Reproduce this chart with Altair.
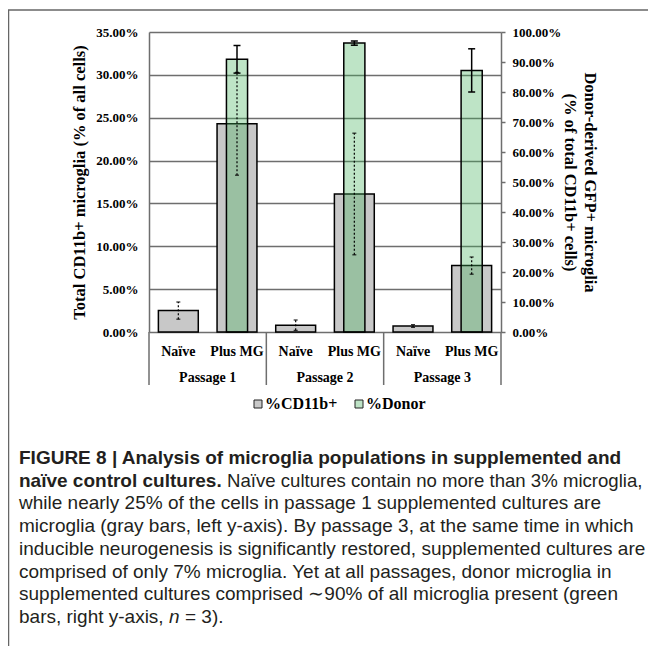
import altair as alt
import pandas as pd

# ---------------- data ----------------
passages = ["Passage 1", "Passage 2", "Passage 3"]
conditions = ["Naïve", "Plus MG"]
cd11b_pct = [2.5, 24.3, 0.8, 16.1, 0.7, 7.75]      # left axis, gray bars
cd11b_sem = [1.0, 6.0, 0.6, 7.1, 0.15, 1.0]
donor_pct = [90.9, 96.3, 87.2]                    # right axis, green bars (Plus MG only)
donor_sem = [4.6, 0.7, 7.2]
left_ticks = [0, 5, 10, 15, 20, 25, 30, 35]
right_ticks = [0, 10, 20, 30, 40, 50, 60, 70, 80, 90, 100]
series = ["%CD11b+", "%Donor"]
left_title = "Total CD11b+ microglia (% of all cells)"
right_title = ["Donor-derived GFP+ microglia", "(% of total CD11b+ cells)"]

caption_segments = [
    # (line, x offset, text, style, size)
    (0, 0, "FIGURE 8 | Analysis of microglia populations in supplemented and", "bold", 19),
    (1, 0, "naïve control cultures.", "bold", 19),
    (1, 208, "Naïve cultures contain no more than 3% microglia,", "normal", 18.6),
    (2, 0, "while nearly 25% of the cells in passage 1 supplemented cultures are", "normal", 19),
    (3, 0, "microglia (gray bars, left y-axis). By passage 3, at the same time in which", "normal", 19),
    (4, 0, "inducible neurogenesis is significantly restored, supplemented cultures are", "normal", 19),
    (5, 0, "comprised of only 7% microglia. Yet at all passages, donor microglia in", "normal", 19),
    (6, 0, "supplemented cultures comprised \u223c90% of all microglia present (green", "normal", 19),
    (7, 0, "bars, right y-axis,", "normal", 19),
    (7, 150, "n", "italic", 19),
    (7, 166, "= 3).", "normal", 19),
]

# ---------------- styling ----------------
W, H = 352, 300
GRAY = "#c8c8c8"
GREEN = "#45b15b"
GREEN_SWATCH = "#bee3c6"
AXIS_GRAY = "#6e6e6e"
SERIF = "Liberation Serif"
SANS = "Liberation Sans"
GRAY_HALF = 0.34
GREEN_HALF = 0.18

n_cond = len(conditions)
rows = []
for pi, p in enumerate(passages):
    for ci, c in enumerate(conditions):
        i = pi * n_cond + ci
        rows.append(dict(passage=p, condition=c, pos=i + 0.5,
                         value=cd11b_pct[i], err=cd11b_sem[i], series=series[0]))
gray = pd.DataFrame(rows)
gray["x1"] = gray["pos"] - GRAY_HALF
gray["x2"] = gray["pos"] + GRAY_HALF
gray["lo"] = gray["value"] - gray["err"]
gray["hi"] = gray["value"] + gray["err"]

green = pd.DataFrame(dict(
    passage=passages,
    pos=[pi * n_cond + conditions.index("Plus MG") + 0.5 for pi in range(len(passages))],
    value=donor_pct, err=donor_sem, series=series[1]))
green["x1"] = green["pos"] - GREEN_HALF
green["x2"] = green["pos"] + GREEN_HALF
green["lo"] = green["value"] - green["err"]
green["hi"] = green["value"] + green["err"]

groups = pd.DataFrame(dict(passage=passages,
                           center=[pi * n_cond + n_cond / 2 for pi in range(len(passages))]))
bounds = pd.DataFrame(dict(b=[pi * n_cond for pi in range(len(passages) + 1)]))

xs = alt.Scale(domain=[0, len(passages) * n_cond], nice=False, zero=False)
ys_left = alt.Scale(domain=[0, 35], nice=False)
ys_right = alt.Scale(domain=[0, 100], nice=False)

left_axis = alt.Axis(orient="left", values=left_ticks, labelExpr="format(datum.value, '.2f') + '%'",
                     title=left_title, grid=True, gridColor=AXIS_GRAY, gridWidth=1.5,
                     ticks=False, tickSize=0, domainColor=AXIS_GRAY, domainWidth=1.5,
                     labelFont=SERIF, labelFontSize=13, labelFontWeight="bold", labelColor="black",
                     labelPadding=11, titleFont=SERIF, titleFontSize=16.5, titleFontWeight="bold",
                     titleColor="black", titlePadding=8)
right_axis = alt.Axis(orient="right", values=right_ticks, labelExpr="format(datum.value, '.2f') + '%'",
                      title=right_title, grid=False, ticks=True, tickSize=4, tickColor=AXIS_GRAY,
                      tickWidth=1.5, domainColor=AXIS_GRAY, domainWidth=1.5,
                      labelFont=SERIF, labelFontSize=13, labelFontWeight="bold", labelColor="black",
                      labelPadding=7, titleFont=SERIF, titleFontSize=16.5, titleFontWeight="bold",
                      titleColor="black", titlePadding=1, titleLineHeight=20)

one = pd.DataFrame({"a": [0]})

frame_left = alt.Chart(one).mark_rule(color="#666", strokeWidth=1.5).encode(
    x=alt.value(-140.5), y=alt.value(-22), y2=alt.value(614))
frame_top = alt.Chart(one).mark_rule(color="#666", strokeWidth=1.5).encode(
    x=alt.value(-141), x2=alt.value(499), y=alt.value(-22))

gray_bars = alt.Chart(gray).mark_bar(stroke="black", strokeWidth=1.5, fill=GRAY).encode(
    x=alt.X("x1:Q", scale=xs, axis=None), x2="x2:Q",
    y=alt.Y("value:Q", scale=ys_left, axis=left_axis), y2=alt.datum(0))
green_bars = alt.Chart(green).mark_bar(stroke="black", strokeWidth=1.5, fill=GREEN,
                                       fillOpacity=0.35).encode(
    x=alt.X("x1:Q", scale=xs, axis=None), x2="x2:Q",
    y=alt.Y("value:Q", scale=ys_right, axis=right_axis), y2=alt.datum(0))

gray_err = alt.Chart(gray).mark_rule(color="black", strokeWidth=1.2, strokeDash=[2, 2]).encode(
    x=alt.X("pos:Q", scale=xs, axis=None),
    y=alt.Y("lo:Q", scale=ys_left, axis=None), y2="hi:Q")
gray_caps = alt.Chart(gray).transform_fold(["lo", "hi"], as_=["k", "cap"]).mark_rule(
    color="black", strokeWidth=1, xOffset=-2, x2Offset=2).encode(
    x=alt.X("pos:Q", scale=xs, axis=None), x2="pos:Q",
    y=alt.Y("cap:Q", scale=ys_left, axis=None))
green_err = alt.Chart(green).mark_rule(color="black", strokeWidth=1.5).encode(
    x=alt.X("pos:Q", scale=xs, axis=None),
    y=alt.Y("lo:Q", scale=ys_right, axis=None), y2="hi:Q")
green_caps = alt.Chart(green).transform_fold(["lo", "hi"], as_=["k", "cap"]).mark_rule(
    color="black", strokeWidth=1.5, xOffset=-3.5, x2Offset=3.5).encode(
    x=alt.X("pos:Q", scale=xs, axis=None), x2="pos:Q",
    y=alt.Y("cap:Q", scale=ys_right, axis=None))

seps = alt.Chart(bounds).mark_rule(color=AXIS_GRAY, strokeWidth=1.5).encode(
    x=alt.X("b:Q", scale=xs, axis=None), y=alt.value(H), y2=alt.value(H + 53))
cond_labels = alt.Chart(gray).mark_text(font=SERIF, fontSize=14, fontWeight="bold",
                                        color="black", baseline="middle").encode(
    x=alt.X("pos:Q", scale=xs, axis=None), y=alt.value(H + 20), text="condition:N")
pass_labels = alt.Chart(groups).mark_text(font=SERIF, fontSize=14, fontWeight="bold",
                                          color="black", baseline="middle").encode(
    x=alt.X("center:Q", scale=xs, axis=None), y=alt.value(H + 46), text="passage:N")

# legend (drawn by hand so the green swatch looks like the translucent bar over white)
legend_layers = []
for k, (name, fill) in enumerate(zip(series, [GRAY, GREEN_SWATCH])):
    d = pd.DataFrame({"t": [name]})
    legend_layers.append(alt.Chart(d).mark_square(size=64, fill=fill, stroke="#222",
                                                  strokeWidth=1, opacity=1).encode(
        x=alt.value(109 + 101 * k), y=alt.value(372)))
    legend_layers.append(alt.Chart(d).mark_text(font=SERIF, fontSize=16, fontWeight="bold",
                                                color="black", align="left",
                                                baseline="middle").encode(
        x=alt.value(116 + 101 * k), y=alt.value(372), text="t:N"))

cap_layers = []
for line, dx, txt, style, size in caption_segments:
    kw = dict(font=SANS, fontSize=size, color="#231f20", align="left", baseline="middle")
    if style == "bold":
        kw["fontWeight"] = "bold"
    if style == "italic":
        kw["fontStyle"] = "italic"
    cap_layers.append(alt.Chart(pd.DataFrame({"t": [txt]})).mark_text(**kw).encode(
        x=alt.value(-130 + dx), y=alt.value(426 + line * 22.7), text="t:N"))

chart = alt.layer(
    frame_left, frame_top, gray_bars, green_bars, gray_err, gray_caps, green_err, green_caps,
    seps, cond_labels, pass_labels, *legend_layers, *cap_layers
).resolve_scale(y="independent").properties(
    width=W, height=H, autosize=alt.AutoSizeParams(type="none"),
    padding={"left": 141, "top": 24, "right": 147, "bottom": 314}
).configure_view(stroke=None)

chart.save("out.html", embed_options={"renderer": "svg", "actions": False})
